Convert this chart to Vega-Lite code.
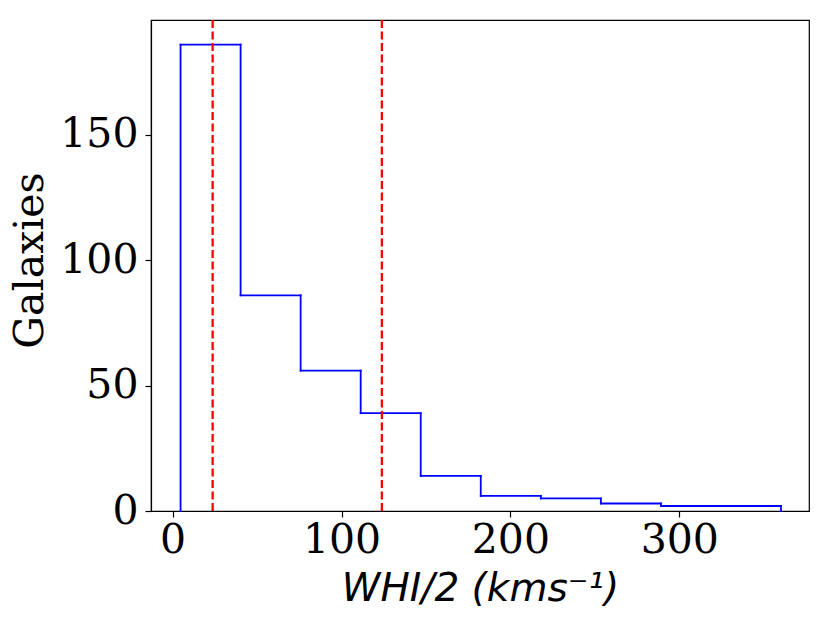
{
  "$schema": "https://vega.github.io/schema/vega-lite/v6.json",
  "width": 658,
  "height": 491,
  "autosize": "none",
  "padding": {"left": 151, "top": 20, "right": 22, "bottom": 118},
  "background": "white",
  "datasets": {
    "bins": [
      {"start": 4.7, "end": 40.25, "count": 186},
      {"start": 40.25, "end": 75.8, "count": 86},
      {"start": 75.8, "end": 111.35, "count": 56},
      {"start": 111.35, "end": 146.9, "count": 39},
      {"start": 146.9, "end": 182.45, "count": 14},
      {"start": 182.45, "end": 218.0, "count": 6},
      {"start": 218.0, "end": 253.55, "count": 5},
      {"start": 253.55, "end": 289.1, "count": 3},
      {"start": 289.1, "end": 324.65, "count": 2},
      {"start": 324.65, "end": 360.2, "count": 2}
    ],
    "marks": [
      {"value": 23.7},
      {"value": 123.9}
    ]
  },
  "layer": [
    {
      "data": {"name": "bins"},
      "mark": {"type": "rule", "color": "#0000ff", "strokeWidth": 1.8, "strokeCap": "square"},
      "encoding": {
        "x": {
          "field": "start",
          "type": "quantitative",
          "scale": {"domain": [-12.8, 376.8], "nice": false, "zero": false},
          "axis": {
            "title": "WHI/2 (kms⁻¹)",
            "values": [0, 100, 200, 300],
            "grid": false,
            "labelFont": "DejaVu Serif",
            "labelFontSize": 41,
            "labelColor": "#000000",
            "labelPadding": 3,
            "labelFlush": false,
            "tickSize": 6,
            "tickColor": "#000000",
            "tickWidth": 1.2,
            "domainColor": "#000000",
            "domainWidth": 1.2,
            "titleFont": "DejaVu Sans",
            "titleFontStyle": "italic",
            "titleFontWeight": "normal",
            "titleFontSize": 39,
            "titleColor": "#000000",
            "titlePadding": 9
          }
        },
        "x2": {"field": "end"},
        "y": {
          "field": "count",
          "type": "quantitative",
          "scale": {"domain": [0, 195.8], "nice": false, "zero": true},
          "axis": {
            "title": "Galaxies",
            "values": [0, 50, 100, 150],
            "grid": false,
            "labelFont": "DejaVu Serif",
            "labelFontSize": 41,
            "labelColor": "#000000",
            "labelPadding": 7,
            "labelFlush": false,
            "tickSize": 6,
            "tickColor": "#000000",
            "tickWidth": 1.2,
            "domainColor": "#000000",
            "domainWidth": 1.2,
            "titleFont": "DejaVu Serif",
            "titleFontWeight": "normal",
            "titleFontSize": 41,
            "titleColor": "#000000",
            "titlePadding": 8,
            "titleY": 240
          }
        }
      }
    },
    {
      "data": {"name": "bins"},
      "transform": [
        {"window": [{"op": "lag", "field": "count", "as": "prev"}], "sort": [{"field": "start"}]},
        {"calculate": "datum.prev == null ? 0 : datum.prev", "as": "prev0"}
      ],
      "mark": {"type": "rule", "color": "#0000ff", "strokeWidth": 1.8, "strokeCap": "square"},
      "encoding": {
        "x": {"field": "start", "type": "quantitative"},
        "y": {"field": "prev0", "type": "quantitative"},
        "y2": {"field": "count"}
      }
    },
    {
      "data": {"name": "bins"},
      "transform": [
        {"window": [{"op": "lead", "field": "count", "as": "next"}], "sort": [{"field": "start"}]},
        {"filter": "datum.next == null"},
        {"calculate": "0", "as": "base"}
      ],
      "mark": {"type": "rule", "color": "#0000ff", "strokeWidth": 1.8, "strokeCap": "square"},
      "encoding": {
        "x": {"field": "end", "type": "quantitative"},
        "y": {"field": "base", "type": "quantitative"},
        "y2": {"field": "count"}
      }
    },
    {
      "data": {"name": "marks"},
      "mark": {"type": "rule", "color": "#ff0000", "strokeWidth": 2.3, "strokeDash": [8, 3.5]},
      "encoding": {
        "x": {"field": "value", "type": "quantitative"}
      }
    }
  ],
  "config": {
    "view": {"stroke": "#000000", "strokeWidth": 1.2}
  }
}
